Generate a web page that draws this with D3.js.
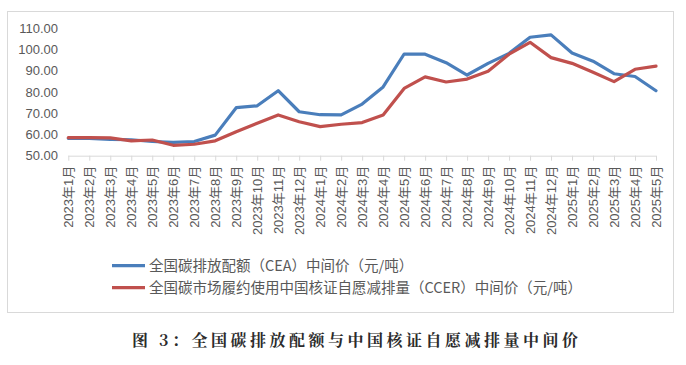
<!DOCTYPE html>
<html><head><meta charset="utf-8">
<script src="https://cdn.jsdelivr.net/npm/d3@7"></script>
<style>
html,body{margin:0;padding:0;background:#fff;}
svg{display:block;}
text{font-family:"Liberation Sans","Noto Sans CJK SC",sans-serif;}
</style></head>
<body>
<svg id="chart" width="686" height="365"></svg>
<script>
const categories = ["2023年1月","2023年2月","2023年3月","2023年4月","2023年5月","2023年6月","2023年7月","2023年8月","2023年9月","2023年10月","2023年11月","2023年12月",
"2024年1月","2024年2月","2024年3月","2024年4月","2024年5月","2024年6月","2024年7月","2024年8月","2024年9月","2024年10月","2024年11月","2024年12月",
"2025年1月","2025年2月","2025年3月","2025年4月","2025年5月"];
const ceaValues = [58.2,58.2,57.7,57.5,56.7,56.3,56.7,59.7,72.6,73.5,80.6,70.7,69.3,69.2,74.3,82.4,97.9,97.8,93.8,88.0,93.5,98.2,105.8,106.9,98.4,94.5,88.6,87.3,80.6];
const ccerValues = [58.5,58.5,58.4,57.0,57.4,54.9,55.4,57.0,61.3,65.3,69.2,66.0,63.7,64.8,65.6,69.2,81.7,87.1,84.7,86.1,89.8,97.8,103.4,96.2,93.5,89.3,84.9,90.7,92.2];
const yTicks = [50,60,70,80,90,100,110];
const seriesNames = ["全国碳排放配额（CEA）中间价（元/吨）","全国碳市场履约使用中国核证自愿减排量（CCER）中间价（元/吨）"];
const seriesColors = ["#4a7ebb","#c0504d"];
const titleText = "图 3：全国碳排放配额与中国核证自愿减排量中间价";

const svg = d3.select("#chart");
// chart frame
svg.append("rect").attr("x",7.5).attr("y",11.5).attr("width",666).attr("height",301)
  .attr("fill","#fff").attr("stroke","#d9d9d9").attr("stroke-width",1);

const x = d3.scalePoint().domain(categories).range([68.3,656]);
const y = d3.scaleLinear().domain([50,110]).range([155.7,28.3]);

// y axis labels
const ya = svg.append("g").attr("transform","translate(63,0)")
  .call(d3.axisLeft(y).tickValues(yTicks).tickFormat(d3.format(".2f")).tickSize(0).tickPadding(5));
ya.select(".domain").remove();
ya.selectAll("text").attr("fill","#595959").style("font-size","13px")
  .style("font-family","'Liberation Sans',sans-serif");

// x axis
const xa = svg.append("g").attr("transform","translate(0,155.7)")
  .call(d3.axisBottom(x).tickSize(5).tickSizeOuter(0).tickPadding(4));
xa.select(".domain").attr("stroke","#d9d9d9").attr("d","M68.3,0.5H656");
xa.selectAll(".tick line").attr("stroke","#d9d9d9");
xa.selectAll("text")
  .attr("fill","#595959").style("font-size","13px")
  .attr("transform","rotate(-90)")
  .attr("text-anchor","end")
  .attr("x",-10).attr("y",0).attr("dy","0.35em");

const line = d3.line().x((d,i)=>x(categories[i])).y(d=>y(d));
[ceaValues, ccerValues].forEach((vals,k)=>{
  svg.append("path").datum(vals).attr("d",line)
    .attr("fill","none").attr("stroke",seriesColors[k]).attr("stroke-width",3.2)
    .attr("stroke-linejoin","round").attr("stroke-linecap","round");
});

// legend
const leg = svg.append("g");
seriesNames.forEach((n,k)=>{
  const ly = 265.7 + k*22;
  leg.append("line").attr("x1",112).attr("x2",145).attr("y1",ly).attr("y2",ly)
    .attr("stroke",seriesColors[k]).attr("stroke-width",3.2);
  leg.append("text").attr("x",149).attr("y",ly).attr("dy","0.36em")
    .attr("fill","#595959").style("font-size","14.5px")
    .style("font-family","'Noto Sans CJK SC',sans-serif").text(n);
});

// title
svg.append("text").attr("x",132).attr("y",340).attr("dy","0.36em")
  .attr("fill","#2b2b2b").style("font-size","16px").style("font-weight","bold")
  .style("letter-spacing","3.5px")
  .style("font-family","'Noto Serif CJK SC','Noto Sans CJK SC',serif").text(titleText);
</script>
</body></html>
